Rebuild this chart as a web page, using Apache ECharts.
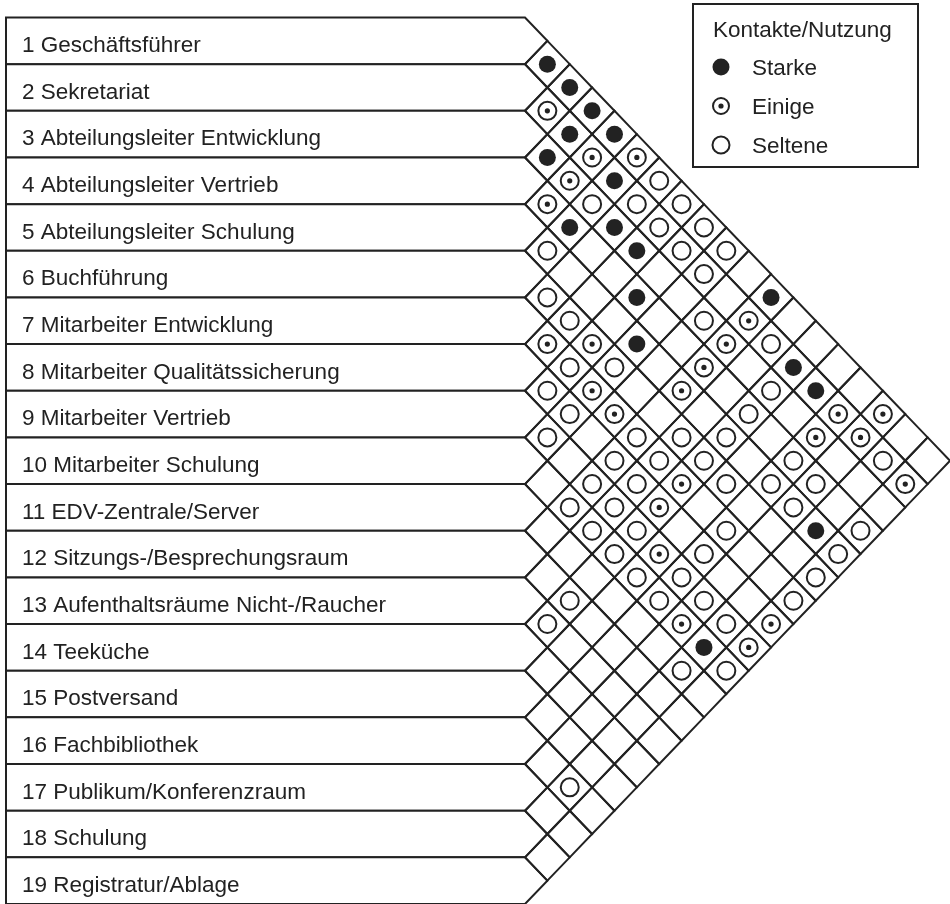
<!DOCTYPE html>
<html><head><meta charset="utf-8">
<script src="https://cdn.jsdelivr.net/npm/echarts@6/dist/echarts.min.js"></script>
<style>html,body{margin:0;padding:0;background:#fff}#c{width:950px;height:904px}</style>
</head><body><div id="c"></div>
<script>
const rowLabels = [
  '1 Geschäftsführer', '2 Sekretariat', '3 Abteilungsleiter Entwicklung',
  '4 Abteilungsleiter Vertrieb', '5 Abteilungsleiter Schulung', '6 Buchführung',
  '7 Mitarbeiter Entwicklung', '8 Mitarbeiter Qualitätssicherung', '9 Mitarbeiter Vertrieb',
  '10 Mitarbeiter Schulung', '11 EDV-Zentrale/Server', '12 Sitzungs-/Besprechungsraum',
  '13 Aufenthaltsräume Nicht-/Raucher', '14 Teeküche', '15 Postversand',
  '16 Fachbibliothek', '17 Publikum/Konferenzraum', '18 Schulung', '19 Registratur/Ablage'
];
// pairs [row i, row j]
const starke = [[1,2],[1,3],[1,4],[2,4],[1,5],[3,4],[2,6],[4,6],[3,7],[3,8],[4,9],[1,12],
  [5,10],[2,14],[2,15],[5,18],[10,18]];
const einige = [[2,3],[2,5],[1,6],[3,5],[4,5],[2,12],[7,8],[6,9],[3,12],[4,12],[7,10],[5,12],
  [7,11],[2,16],[1,17],[3,16],[2,17],[7,14],[2,19],[8,14],[9,15],[10,17],[8,19],[9,19]];
const seltene = [[1,7],[3,6],[2,7],[1,8],[2,8],[1,9],[5,6],[2,9],[1,10],[2,10],[6,7],[6,8],
  [3,11],[2,13],[7,9],[6,10],[8,9],[3,14],[8,10],[4,14],[9,10],[7,12],[6,13],[5,14],[8,12],
  [7,13],[6,14],[4,16],[2,18],[9,12],[8,13],[6,15],[5,16],[4,17],[10,12],[9,13],[5,17],
  [10,13],[9,14],[7,16],[4,19],[10,14],[8,16],[5,19],[10,15],[9,16],[6,19],[12,14],[10,16],
  [9,17],[7,19],[13,14],[9,18],[11,18],[10,19],[16,18]];
const legendTitle = 'Kontakte/Nutzung';
const levelNames = ['Starke', 'Einige', 'Seltene'];

const N = rowLabels.length;
const INK = '#222';
const LW = 2;
const FONT = '22.5px "Liberation Sans", Arial, sans-serif';
const toUV = p => [p[1] - p[0], p[0] + p[1]];

const cellData = [];
for (let i = 1; i <= N; i++) for (let j = i + 1; j <= N; j++) cellData.push(toUV([i, j]));

function markRender(kind) {
  return function (params, api) {
    const c = api.coord([api.value(0), api.value(1)]);
    if (kind === 0) {
      return { type: 'circle', shape: { cx: c[0], cy: c[1], r: 8.5 }, style: { fill: INK } };
    }
    const ring = { type: 'circle', shape: { cx: c[0], cy: c[1], r: 9 }, style: { fill: '#fff', stroke: INK, lineWidth: 2 } };
    if (kind === 2) return ring;
    return { type: 'group', children: [ring,
      { type: 'circle', shape: { cx: c[0], cy: c[1], r: 2.6 }, style: { fill: INK } }] };
  };
}

const chart = echarts.init(document.getElementById('c'), null, { renderer: 'canvas' });
chart.setOption({
  animation: false,
  backgroundColor: '#fff',
  grid: { left: 525, top: 17.5, width: 427.5, height: 891.1 },
  xAxis: { type: 'value', min: 0, max: N, show: false },
  yAxis: { type: 'value', min: 1, max: 2 * N + 1, inverse: true, show: false },
  series: [
    {
      type: 'custom', name: 'rows', silent: true,
      data: rowLabels.map((l, k) => [0, 2 * (k + 1)]),
      renderItem: function (params, api) {
        const v = api.value(1);
        const top = api.coord([0, v - 1]);
        const tip = api.coord([1, v]);
        const bot = api.coord([0, v + 1]);
        const xl = 6;
        return { type: 'group', children: [
          { type: 'polygon', shape: { points: [[xl, top[1]], top, tip, bot, [xl, bot[1]]] },
            style: { fill: '#fff', stroke: INK, lineWidth: LW } },
          { type: 'text', style: { text: rowLabels[params.dataIndex], x: 22, y: tip[1] + 5,
            verticalAlign: 'middle', font: FONT, fill: INK } }
        ] };
      }
    },
    {
      type: 'custom', name: 'cells', silent: true,
      data: cellData,
      renderItem: function (params, api) {
        const u = api.value(0), v = api.value(1);
        return { type: 'polygon',
          shape: { points: [api.coord([u - 1, v]), api.coord([u, v - 1]), api.coord([u + 1, v]), api.coord([u, v + 1])] },
          style: { fill: 'none', stroke: INK, lineWidth: LW } };
      }
    },
    { type: 'custom', name: levelNames[0], data: starke.map(toUV), renderItem: markRender(0) },
    { type: 'custom', name: levelNames[1], data: einige.map(toUV), renderItem: markRender(1) },
    { type: 'custom', name: levelNames[2], data: seltene.map(toUV), renderItem: markRender(2) }
  ],
  graphic: [
    { type: 'rect', shape: { x: 693, y: 4, width: 225, height: 163 }, style: { fill: '#fff', stroke: INK, lineWidth: 2 } },
    { type: 'text', style: { text: legendTitle, x: 713, y: 31, verticalAlign: 'middle', font: FONT, fill: INK } },
    { type: 'circle', shape: { cx: 721, cy: 67, r: 8.5 }, style: { fill: INK } },
    { type: 'text', style: { text: levelNames[0], x: 752, y: 69, verticalAlign: 'middle', font: FONT, fill: INK } },
    { type: 'circle', shape: { cx: 721, cy: 106, r: 8 }, style: { fill: '#fff', stroke: INK, lineWidth: 2 } },
    { type: 'circle', shape: { cx: 721, cy: 106, r: 2.6 }, style: { fill: INK } },
    { type: 'text', style: { text: levelNames[1], x: 752, y: 108, verticalAlign: 'middle', font: FONT, fill: INK } },
    { type: 'circle', shape: { cx: 721, cy: 145, r: 8.5 }, style: { fill: '#fff', stroke: INK, lineWidth: 2 } },
    { type: 'text', style: { text: levelNames[2], x: 752, y: 147, verticalAlign: 'middle', font: FONT, fill: INK } }
  ]
});
</script></body></html>
